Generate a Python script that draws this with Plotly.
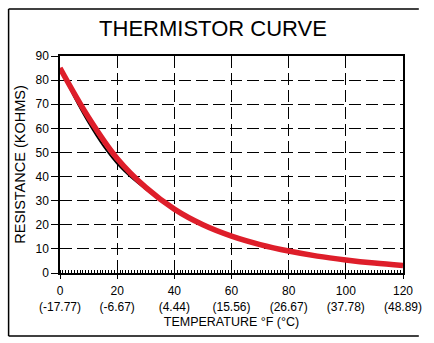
import plotly.graph_objects as go

# Thermistor resistance versus temperature
temp_f = [0, 10, 20, 30, 40, 50, 60, 70, 80, 90, 100, 110, 120]
resistance_kohm = [85, 64.5, 47.5, 35.5, 26.5, 20, 15.3, 11.8, 9.1, 7.0, 5.4, 4.1, 3.1]

# thin reference trace that peeks out below the main curve
ref_temp_f = [0, 5, 10, 15, 20, 25, 30, 35, 40]
ref_resistance_kohm = [85, 73, 62.3, 53, 45.4, 39.6, 34.8, 30.4, 26.5]

tick_f = [0, 20, 40, 60, 80, 100, 120]
tick_c = ["-17.77", "-6.67", "4.44", "15.56", "26.67", "37.78", "48.89"]
tick_y = [0, 10, 20, 30, 40, 50, 60, 70, 80, 90]

W, H = 434, 343
ML, MR, MT, MB = 60, 27, 56, 70
FONT = "Liberation Sans, Arial, sans-serif"

fig = go.Figure()
fig.add_trace(go.Scatter(
    x=ref_temp_f, y=ref_resistance_kohm, mode="lines",
    line=dict(color="black", width=2, shape="spline", smoothing=1.0),
    hoverinfo="skip",
))
fig.add_trace(go.Scatter(
    x=temp_f, y=resistance_kohm, mode="lines",
    line=dict(color="rgb(222,30,42)", width=5.5, shape="spline", smoothing=1.0),
))

axis_common = dict(
    showline=True, linecolor="black", linewidth=1.5, mirror=True,
    showgrid=True, gridcolor="black", gridwidth=1.3, griddash="12px,5px",
    zeroline=False, ticks="outside", tickcolor="black", tickwidth=1.3,
    tickfont=dict(family=FONT, size=12, color="black"),
)

fig.update_xaxes(
    **axis_common, range=[0, 120],
    tickvals=tick_f,
    ticktext=[f"{f}<br>({c})" for f, c in zip(tick_f, tick_c)],
    ticklen=4, ticklabelstandoff=2,
    minor=dict(ticks="inside", ticklen=3, dtick=1, tickcolor="black",
               tickwidth=1, showgrid=False),
    title=dict(text="TEMPERATURE °F (°C)", standoff=4,
               font=dict(family=FONT, size=12.5, color="black")),
)
fig.update_yaxes(
    **axis_common, range=[0, 90], tickvals=tick_y, ticklen=7,
    title=dict(text="RESISTANCE (KOHMS)", standoff=6,
               font=dict(family=FONT, size=14.5, color="black")),
)

# frame around the whole figure (open on the right)
pw, ph = W - ML - MR, H - MT - MB
def px_x(p):
    return (p - ML) / pw
def px_y(p):
    return (H - MB - p) / ph
frame = dict(type="line", xref="paper", yref="paper",
             line=dict(color="black", width=1.5))
x0, x1, y0, y1 = px_x(8), px_x(423), px_y(9), px_y(336)
fig.add_shape(**frame, x0=x0, x1=x1, y0=y0, y1=y0)
fig.add_shape(**frame, x0=x0, x1=x1, y0=y1, y1=y1)
fig.add_shape(**frame, x0=x0, x1=x0, y0=y0, y1=y1)

fig.update_layout(
    width=W, height=H,
    margin=dict(l=ML, r=MR, t=MT, b=MB),
    paper_bgcolor="white", plot_bgcolor="white",
    showlegend=False,
    title=dict(text="THERMISTOR CURVE", x=213 / W, xanchor="center",
               y=1 - 28 / H, yanchor="middle", xref="container", yref="container",
               font=dict(family=FONT, size=22, color="black")),
)

fig.write_html("out.html")
